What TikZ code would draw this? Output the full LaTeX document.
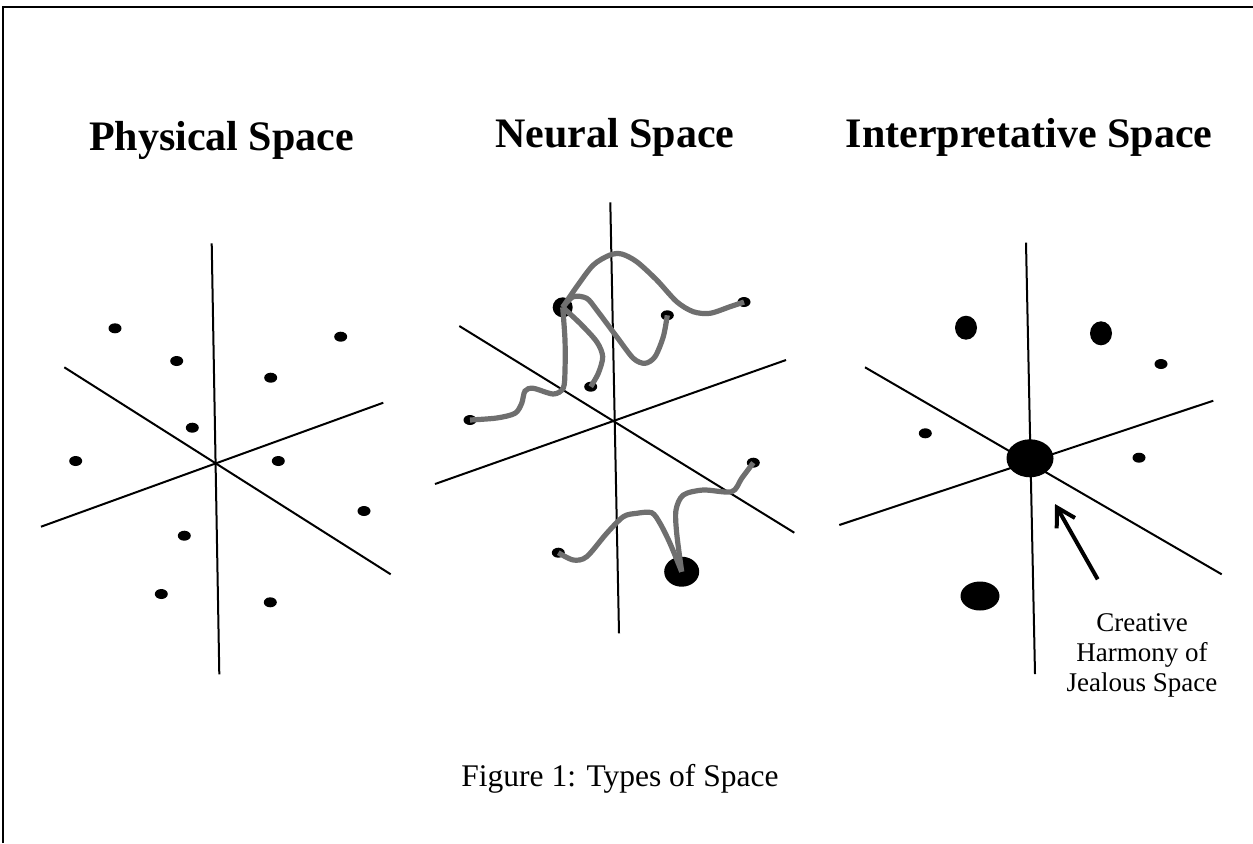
\documentclass[tikz,border=0pt]{standalone}
\usepackage{fontspec}
\setmainfont{Liberation Serif}
\usetikzlibrary{arrows.meta, shapes.geometric}
\definecolor{cwire}{HTML}{6F6F6F}
\tikzset{
  every picture/.style={line width=1pt},
  axis/.style={draw=black, line width=1pt},
  dot/.style={ellipse, fill=black, inner sep=0pt, minimum width=6.5pt, minimum height=5pt},
  wire/.style={draw=cwire, line width=2.6pt},
  pointer/.style={-{Straight Barb[length=9pt, width=10.5pt]}, line width=2pt},
  title/.style={font=\fontsize{21}{25}\selectfont\bfseries, anchor=base},
  note/.style={font=\fontsize{13.5}{15}\selectfont, align=center},
}

\begin{document}
\begin{tikzpicture}[x=0.5pt, y=-0.5pt]
  \useasboundingbox (0,0) rectangle (1253,843);
  \draw[line width=0.8pt] (3,843) -- (3,7) -- (1253,7);
  % titles
  \node[title] (tphys) at (221.5,150) {Physical Space};
  \node[title] (tneur) at (615,147) {Neural Space};
  \node[title] (tintp) at (1029,147) {Interpretative Space};
  % physical space
  \draw[axis] (211.7,243.3) -- (219.3,674.3);
  \draw[axis] (64.3,367.3) -- (390.7,574.3);
  \draw[axis] (41,526.7) -- (383.3,402.7);
  \node[dot] (p1) at (115,328.3) {};
  \node[dot] (p2) at (176.7,361) {};
  \node[dot] (p3) at (340.7,336.7) {};
  \node[dot] (p4) at (270.7,377.7) {};
  \node[dot] (p5) at (192.3,427.7) {};
  \node[dot] (p6) at (75.7,461) {};
  \node[dot] (p7) at (278.3,461) {};
  \node[dot] (p8) at (364,511) {};
  \node[dot] (p9) at (184.3,535.7) {};
  \node[dot] (p10) at (161.3,594) {};
  \node[dot] (p11) at (270.3,602.3) {};
  % neural space
  \draw[axis] (610.3,202.3) -- (619,633.3);
  \draw[axis] (459.3,326) -- (794.3,532.7);
  \draw[axis] (435,484) -- (786,360);
  \node[dot, minimum width=10pt, minimum height=10pt] (nb1) at (562.7,307.3) {};
  \node[dot, minimum width=17.5pt, minimum height=15pt] (nb2) at (681.7,571.7) {};
  \node[dot] (n1) at (744,302) {};
  \node[dot] (n2) at (667.3,315.3) {};
  \node[dot] (n3) at (590.7,386.7) {};
  \node[dot] (n4) at (470,420) {};
  \node[dot] (n5) at (753.3,462.7) {};
  \node[dot] (n6) at (558.3,552.7) {};
  \draw[wire] plot[smooth] coordinates {(nb1.center) (576.7,286.7) (593.3,265) (610,255) (621.7,254) (636.7,261.7) (656.7,280) (676.7,301.7) (693.3,311.7) (710,313.3) (730,306.7) (n1.center)};
  \draw[wire] plot[smooth] coordinates {(nb1.center) (573.3,296.7) (586.7,298.3) (596.7,310) (616.7,336.7) (633.3,358.3) (645,363.3) (655,356.7) (663.3,336.7) (n2.center)};
  \draw[wire] plot[smooth] coordinates {(nb1.center) (580,323.3) (596.7,341.7) (602.7,356.7) (598.3,373.3) (n3.center)};
  \draw[wire] plot[smooth] coordinates {(nb1.center) (565,340) (565,370) (563.3,388) (553.3,394) (533.3,388.3) (525,391) (521.7,403.3) (515,413.3) (496.7,418) (n4.center)};
  \draw[wire] plot[smooth] coordinates {(n6.center) (573.3,560) (586.7,556.7) (606.7,533.3) (623.3,516.7) (636.7,513.3) (651.7,512.7) (660,523.3) (670,543.3) (nb2.center)};
  \draw[wire] plot[smooth] coordinates {(nb2.center) (676.7,533.3) (676,510) (683.3,495) (703.3,490) (731.7,491.7) (741.7,478.3) (n5.center)};
  % interpretative space
  \draw[axis] (1026,242.7) -- (1035,674);
  \draw[axis] (865,367.3) -- (1221.7,574.3);
  \draw[axis] (839.3,525) -- (1213.3,400.7);
  \node[dot, minimum width=23.5pt, minimum height=19pt] (ic) at (1030,458.3) {};
  \node[dot, minimum width=11pt, minimum height=12pt] (i1) at (966,327.7) {};
  \node[dot, minimum width=11pt, minimum height=12pt] (i2) at (1101,333.3) {};
  \node[dot] (i3) at (1161,364) {};
  \node[dot] (i4) at (925.3,433.3) {};
  \node[dot] (i5) at (1139,457.7) {};
  \node[dot, minimum width=19.5pt, minimum height=14.5pt] (i6) at (980,596) {};
  % annotations
  \node[note] (harm) at (1142,655) {Creative\\Harmony of\\Jealous Space};
  \coordinate (tail) at (1097.7,579.3);
  \coordinate (tip) at (1055,504);
  \draw[pointer] (tail) -- (tip);
  \node[font=\fontsize{15.75}{18}\selectfont, anchor=base] (cap) at (620,786.7) {Figure 1: Types of Space};
\end{tikzpicture}
\end{document}
